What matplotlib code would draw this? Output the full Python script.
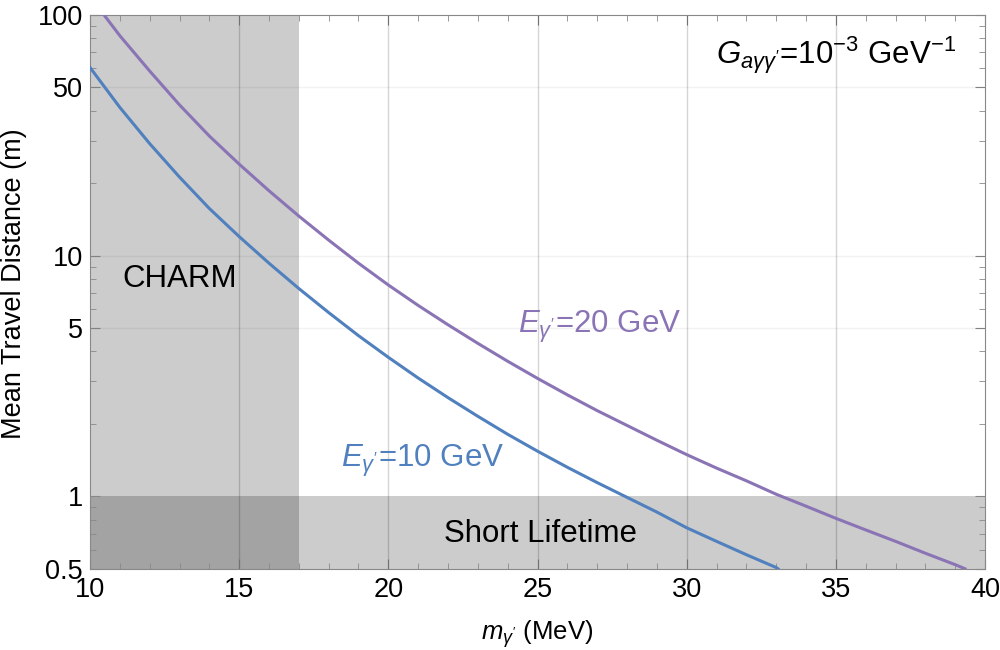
import numpy as np
import matplotlib.pyplot as plt
from matplotlib.ticker import FixedLocator, NullFormatter

plt.rcParams['font.family'] = ['Liberation Sans', 'DejaVu Sans']
plt.rcParams['mathtext.fontset'] = 'custom'
plt.rcParams['mathtext.rm'] = 'Liberation Sans'
plt.rcParams['mathtext.it'] = 'Liberation Sans:italic'

# masse (MeV) og midlere vandrelengde (m), lest av figuren
m_10 = [10, 11, 12, 13, 14, 15, 16, 17, 18, 19, 20, 21, 22, 23, 24, 25,
        26, 27, 28, 29, 30, 31, 32, 33, 33.06]
d_10 = [60.5, 41.3, 29.2, 21.2, 15.7, 12.0, 9.3, 7.3, 5.8, 4.65, 3.78, 3.1,
        2.57, 2.15, 1.81, 1.54, 1.32, 1.14, 0.99, 0.86, 0.74, 0.65, 0.572,
        0.506, 0.5]

m_20 = [10.47, 11, 12, 13, 14, 15, 16, 17, 18, 19, 20, 21, 22, 23, 24, 25,
        26, 27, 28, 29, 30, 31, 32, 33, 34, 35, 36, 37, 38, 39, 39.33]
d_20 = [100, 82, 58.5, 42.3, 31.4, 24, 18.6, 14.6, 11.6, 9.3, 7.55, 6.21,
        5.16, 4.32, 3.64, 3.09, 2.64, 2.27, 1.97, 1.71, 1.49, 1.31, 1.16,
        1.02, 0.91, 0.81, 0.725, 0.65, 0.58, 0.52, 0.5]

charm_max = 17
short_life = 1.0

blue = '#5080BE'
purple = '#8A74B5'

fig, ax = plt.subplots(figsize=(10, 6.5), dpi=100)
fig.subplots_adjust(left=0.09, right=0.985, top=0.977, bottom=0.125)

ax.set_yscale('log')
ax.set_xlim(10, 40)
ax.set_ylim(0.5, 100)

# skyggelagte områder
ax.axvspan(10, charm_max, color='black', alpha=0.2, lw=0, zorder=1)
ax.axhspan(0.5, short_life, color='black', alpha=0.2, lw=0, zorder=1)

# rutenett
for xv in [15, 20, 25, 30, 35]:
    ax.axvline(xv, color='black', alpha=0.17, lw=1, zorder=2)
for yv in [5, 10, 50]:
    ax.axhline(yv, color='black', alpha=0.05, lw=1, zorder=2)

ax.plot(m_10, d_10, color=blue, lw=2.2, zorder=3)
ax.plot(m_20, d_20, color=purple, lw=2.2, zorder=3)

ax.text(11.1, 8.0, 'CHARM', fontsize=22.5, va='center', ha='left')
ax.text(25.1, 0.70, 'Short Lifetime', fontsize=22.5, va='center', ha='center')
ax.text(18.4, 1.40, r"$E_{\gamma'}$=10 GeV", fontsize=22.5, color=blue,
        va='center', ha='left')
ax.text(24.35, 5.08, r"$E_{\gamma'}$=20 GeV", fontsize=22.5, color=purple,
        va='center', ha='left')
ax.text(31.0, 68, r"$G_{a\gamma\gamma'}$=10$^{-3}$ GeV$^{-1}$", fontsize=22.5,
        va='center', ha='left')

ax.set_xlabel(r"$m_{\gamma'}$ (MeV)", fontsize=18.5)
ax.set_ylabel('Mean Travel Distance (m)', fontsize=19.5)
ax.xaxis.set_label_coords(0.5, -0.09)
ax.yaxis.set_label_coords(-0.07, 0.515)

ax.yaxis.set_major_locator(FixedLocator([0.5, 1, 5, 10, 50, 100]))
ax.set_yticklabels(['0.5', '1', '5', '10', '50', '100'])
minors = [0.6, 0.7, 0.8, 0.9, 2, 3, 4, 6, 7, 8, 9, 20, 30, 40, 60, 70, 80, 90]
ax.yaxis.set_minor_locator(FixedLocator(minors))
ax.yaxis.set_minor_formatter(NullFormatter())
ax.set_xticks([10, 15, 20, 25, 30, 35, 40])
ax.set_xticks(np.arange(10, 41, 1), minor=True)

ax.tick_params(which='both', direction='in', top=True, right=True,
               color='#888888', labelsize=19.5)
ax.tick_params(which='major', length=7)
ax.tick_params(which='minor', length=4)
ax.tick_params(axis='x', pad=6)
ax.tick_params(axis='y', pad=5)
for s in ax.spines.values():
    s.set_color('#888888')

plt.savefig('out.png')
